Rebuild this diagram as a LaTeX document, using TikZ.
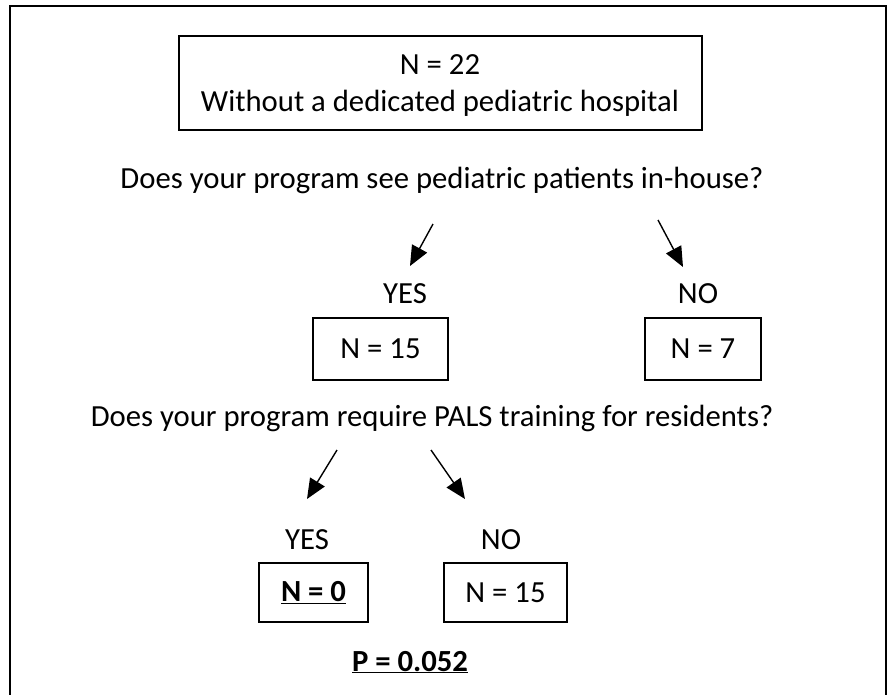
\documentclass[tikz,border=0pt]{standalone}
\usepackage{fontspec}
\setmainfont{Carlito}
\usetikzlibrary{arrows.meta}
\begin{document}
\begin{tikzpicture}[x=1pt,y=-1pt,
  txt/.style={font=\fontsize{30.7}{36}\selectfont, inner sep=0pt, anchor=base},
  nbox/.style={draw, line width=2.5pt, inner sep=0pt, font=\fontsize{30.7}{36}\selectfont},
  arr/.style={line width=1.4pt, -{Triangle[length=20pt,width=17pt]}}
]
\useasboundingbox (0,0) rectangle (891,694);
\draw[line width=2pt] (10,700) -- (10,6) -- (886,6) -- (886,700);

% top box
\node[nbox, minimum width=523pt, minimum height=94pt] (top) at (440.5,83) {};
\node[txt] (n22) at (440,74) {N = 22};
\node[txt] (wo) at (440,111) {Without a dedicated pediatric hospital};

% question 1
\node[txt] (q1) at (442,188) {Does your program see pediatric patients in-house?};
\coordinate (a1s) at (433,224);
\coordinate (a1e) at (410,266);
\coordinate (a2s) at (658,220);
\coordinate (a2e) at (683,267);
\draw[arr] (a1s) -- (a1e);
\draw[arr] (a2s) -- (a2e);

\node[txt] (yes1) at (405,303) {YES};
\node[txt] (no1) at (698,303) {NO};
\node[nbox, minimum width=135pt, minimum height=62pt] (b15) at (380.5,349) {N = 15};
\node[nbox, minimum width=116pt, minimum height=62pt] (b7) at (703,349) {N = 7};

% question 2
\node[txt] (q2) at (432,426) {Does your program require PALS training for residents?};
\coordinate (a3s) at (337,450);
\coordinate (a3e) at (307,499);
\coordinate (a4s) at (431,450);
\coordinate (a4e) at (465,499);
\draw[arr] (a3s) -- (a3e);
\draw[arr] (a4s) -- (a4e);

\node[txt] (yes2) at (307,549) {YES};
\node[txt] (no2) at (501,549) {NO};
\node[nbox, minimum width=109pt, minimum height=59pt] (b0) at (313.5,592.5) {\underline{\textbf{N = 0}}};
\node[nbox, minimum width=123pt, minimum height=59pt] (b15b) at (505.5,592.5) {N = 15};

\node[txt] (p) at (410,671) {\underline{\textbf{P = 0.052}}};
\end{tikzpicture}
\end{document}
